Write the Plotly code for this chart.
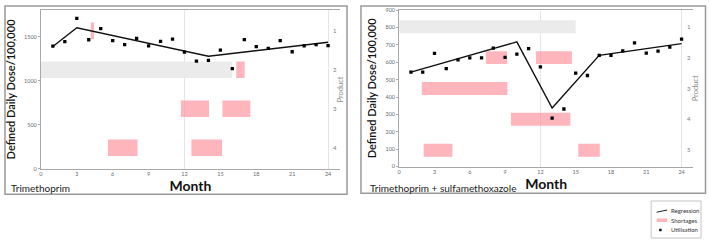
import plotly.graph_objects as go

W, H = 709, 243

# ---------------- data: Trimethoprim ----------------
months = list(range(1, 25))
tmp_util = [1391, 1442, 1707, 1464, 1589, 1453, 1409, 1479, 1394, 1446, 1471, 1324,
            1222, 1229, 1347, 1137, 1465, 1387, 1365, 1453, 1328, 1394, 1409, 1398]
tmp_reg_x = [1, 3, 14, 24]
tmp_reg_y = [1387, 1600, 1277, 1435]
tmp_short_product = [1, 2, 3, 3, 4, 4]
tmp_short_start = [4.17, 16.33, 11.7, 15.17, 5.6, 12.58]
tmp_short_end = [4.44, 17.03, 14.05, 17.5, 8.08, 15.14]
tmp_band_product = [2]
tmp_band_start = [0]
tmp_band_end = [16]

# ---------------- data: Trimethoprim + sulfamethoxazole ----------------
tms_util = [543, 543, 651, 563, 614, 625, 625, 681, 628, 647, 679, 574,
            279, 331, 537, 524, 640, 640, 666, 711, 653, 664, 687, 733]
tms_reg_x = [1, 10, 13, 17, 24]
tms_reg_y = [543, 717, 337, 640, 707]
tms_short_product = [2, 2, 3, 4, 5, 5]
tms_short_start = [7.37, 11.62, 1.92, 9.5, 2.08, 15.22]
tms_short_end = [9.17, 14.68, 9.2, 14.55, 4.53, 17.05]
tms_band_product = [1]
tms_band_start = [0]
tms_band_end = [15]

x_ticks = [0, 3, 6, 9, 12, 15, 18, 21, 24]

PINK = "rgba(255,150,160,0.7)"
GREY_BAND = "#ebebeb"
FONT = "Lato"
TICKCOL = "#5f6b70"


def px_x(p):
    return p / W


def px_y(p):
    return 1 - p / H


fig = go.Figure()


def add_panel(xa, ya_prod, ya_val, util, reg_x, reg_y, sp, ss, se, bp, bs, be):
    fig.add_trace(go.Bar(orientation="h", y=bp, base=bs,
                         x=[e - s for s, e in zip(bs, be)], width=0.42,
                         marker=dict(color=GREY_BAND, line=dict(width=0)),
                         xaxis=xa, yaxis=ya_prod, showlegend=False, hoverinfo="skip"))
    fig.add_trace(go.Bar(orientation="h", y=sp, base=ss,
                         x=[e - s for s, e in zip(ss, se)], width=0.42,
                         marker=dict(color=PINK, line=dict(width=0)),
                         xaxis=xa, yaxis=ya_prod, showlegend=False, name="Shortages"))
    fig.add_trace(go.Scatter(x=reg_x, y=reg_y, mode="lines",
                             line=dict(color="#111111", width=1.4),
                             xaxis=xa, yaxis=ya_val, showlegend=False, name="Regression"))
    fig.add_trace(go.Scatter(x=months, y=util, mode="markers",
                             marker=dict(color="#000000", size=3.3, symbol="square"),
                             xaxis=xa, yaxis=ya_val, showlegend=False, name="Utilisation"))


add_panel("x", "y", "y2", tmp_util, tmp_reg_x, tmp_reg_y,
          tmp_short_product, tmp_short_start, tmp_short_end,
          tmp_band_product, tmp_band_start, tmp_band_end)
add_panel("x2", "y3", "y4", tms_util, tms_reg_x, tms_reg_y,
          tms_short_product, tms_short_start, tms_short_end,
          tms_band_product, tms_band_start, tms_band_end)

xcommon = dict(range=[0, 25], tickvals=x_ticks, ticktext=[str(t) for t in x_ticks],
               showgrid=False, zeroline=False, showline=True, mirror=True,
               linecolor="#a9a9a9", linewidth=1, ticks="", ticklen=0,
               tickfont=dict(size=5.5, color=TICKCOL, family=FONT),
               minor=dict(dtick=12, tick0=0, showgrid=True, gridcolor="#e4e4e4", gridwidth=1),
               title=dict(text="<b>Month</b>", font=dict(size=14, color="#111", family=FONT),
                          standoff=4))

prodcommon = dict(side="right", anchor="free", showgrid=False, zeroline=False, showline=False,
                  ticks="",
                  tickfont=dict(size=6, color="#7a7a7a", family=FONT),
                  title=dict(text="Product", font=dict(size=7.5, color="#8a8a8a", family=FONT),
                             standoff=1))

valcommon = dict(side="left", showgrid=False, zeroline=False,
                 showline=True, linecolor="#a9a9a9", linewidth=1,
                 ticks="outside", ticklen=2, tickcolor="#a9a9a9",
                 tickfont=dict(size=5.5, color=TICKCOL, family=FONT),
                 title=dict(text="Defined Daily Dose/100,000",
                            font=dict(size=11, color="#111", family=FONT, weight=600),
                            standoff=6))

ydomL = [px_y(170), px_y(7.3)]
ydomR = [px_y(167.7), px_y(7.3)]

fig.update_layout(
    width=W, height=H, margin=dict(l=0, r=0, t=0, b=0),
    paper_bgcolor="white", plot_bgcolor="rgba(0,0,0,0)",
    barmode="overlay", showlegend=False,
    font=dict(family=FONT),
    xaxis=dict(domain=[px_x(39), px_x(339)], anchor="y2", **xcommon),
    xaxis2=dict(domain=[px_x(398.3), px_x(693.3)], anchor="y4", **xcommon),
    yaxis=dict(domain=ydomL, position=px_x(331), range=[4.54, 0.47],
               tickvals=[1, 2, 3, 4], **prodcommon),
    yaxis2=dict(domain=ydomL, anchor="x", overlaying="y", range=[0, 1800],
                tickvals=[0, 500, 1000, 1500], **valcommon),
    yaxis3=dict(domain=ydomR, position=px_x(686), range=[5.53, 0.46],
                tickvals=[1, 2, 3, 4, 5], **prodcommon),
    yaxis4=dict(domain=ydomR, anchor="x2", overlaying="y3", range=[0, 900],
                tickvals=list(range(0, 1000, 100)), **valcommon),
)

shapes = []
# panel frames
for (x0, y0, x1, y1) in [(3, 3, 346, 196), (360, 3, 705.5, 195)]:
    shapes.append(dict(type="rect", xref="paper", yref="paper",
                       x0=px_x(x0), x1=px_x(x1), y0=px_y(y1), y1=px_y(y0),
                       line=dict(color="#9a9a9a", width=1.5), fillcolor="rgba(0,0,0,0)", layer="above"))
# legend box
shapes.append(dict(type="rect", xref="paper", yref="paper",
                   x0=px_x(651), x1=px_x(701), y0=px_y(241), y1=px_y(203),
                   line=dict(color="#c4c4c4", width=1), fillcolor="white", layer="above"))
shapes.append(dict(type="line", xref="paper", yref="paper",
                   x0=px_x(656.5), x1=px_x(667), y0=px_y(214.5), y1=px_y(212.3),
                   line=dict(color="#222", width=1), layer="above"))
shapes.append(dict(type="line", xref="paper", yref="paper",
                   x0=px_x(656.5), x1=px_x(667), y0=px_y(222.7), y1=px_y(222.7),
                   line=dict(color="#ffb3b8", width=3.5), layer="above"))
shapes.append(dict(type="rect", xref="paper", yref="paper",
                   x0=px_x(659), x1=px_x(661.5), y0=px_y(234), y1=px_y(231.5),
                   line=dict(width=0), fillcolor="#111", layer="above"))
fig.update_layout(shapes=shapes)

ann = [
    dict(text="Trimethoprim", x=px_x(7), y=px_y(189.5), xanchor="left", yanchor="middle",
         font=dict(size=10, color="#222", family=FONT)),
    dict(text="Trimethoprim + sulfamethoxazole", x=px_x(367), y=px_y(189.5), xanchor="left",
         yanchor="middle", font=dict(size=10, color="#222", family=FONT)),
    dict(text="Regression", x=px_x(668.5), y=px_y(213), xanchor="left", yanchor="middle",
         font=dict(size=6, color="#333", family=FONT)),
    dict(text="Shortages", x=px_x(668.5), y=px_y(222.7), xanchor="left", yanchor="middle",
         font=dict(size=6, color="#333", family=FONT)),
    dict(text="Utilisation", x=px_x(668.5), y=px_y(232.7), xanchor="left", yanchor="middle",
         font=dict(size=6, color="#333", family=FONT)),
]
for a in ann:
    a.update(xref="paper", yref="paper", showarrow=False)
fig.update_layout(annotations=ann)

fig.write_html("out.html", config={"displayModeBar": False},
               post_script="document.body.style.margin='0';document.body.style.overflow='hidden';")
